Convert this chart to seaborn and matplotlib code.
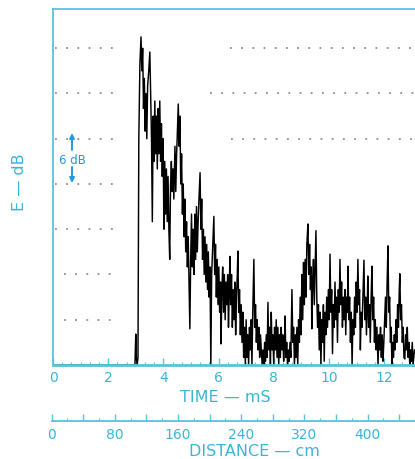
import matplotlib
matplotlib.use("Agg")
import matplotlib.pyplot as plt
import seaborn as sns
import pandas as pd
from matplotlib.ticker import MultipleLocator, FuncFormatter

sns.set_theme(style="white")
plt.rcParams['font.family'] = ['DejaVu Sans']

# ---------------- data (time in ms, level in dB above floor) ----------------
direct_sound = [
    (0.00, 0), (2.97, 0), (3.00, 4.1), (3.02, 1), (3.05, 0), (3.08, 1),
    (3.11, 30), (3.15, 40), (3.19, 43.5), (3.22, 39),
    (3.25, 42), (3.28, 34), (3.31, 38), (3.34, 31), (3.37, 36), (3.40, 30),
    (3.43, 37), (3.47, 39), (3.51, 41.5), (3.54, 36),
]
early_reflections = [
    (3.57, 30), (3.60, 19), (3.63, 33), (3.66, 27), (3.69, 35), (3.72, 28),
    (3.75, 33), (3.78, 26), (3.81, 34), (3.84, 28),
    (3.87, 35), (3.90, 27), (3.93, 32), (3.96, 25), (3.99, 30), (4.02, 18),
    (4.05, 27), (4.08, 20), (4.11, 26), (4.14, 19),
    (4.17, 25), (4.20, 18), (4.23, 14), (4.26, 24), (4.29, 27), (4.32, 23),
    (4.35, 26), (4.38, 22), (4.42, 29), (4.45, 23),
    (4.48, 28), (4.50, 30), (4.54, 34.6), (4.57, 29), (4.60, 33), (4.63, 24),
    (4.66, 28), (4.69, 20), (4.72, 24), (4.75, 17),
    (4.78, 22), (4.81, 15), (4.84, 19), (4.87, 13), (4.90, 17), (4.93, 11),
    (4.96, 4.8), (4.99, 14), (5.02, 20), (5.05, 13),
]
decay = [
    (5.08, 18), (5.11, 12), (5.14, 20), (5.17, 14), (5.20, 21), (5.23, 15),
    (5.26, 19), (5.29, 22), (5.33, 25.5), (5.36, 18),
    (5.39, 22), (5.42, 14), (5.45, 18), (5.48, 12), (5.51, 17), (5.54, 11),
    (5.57, 16), (5.60, 10), (5.63, 15), (5.66, 9),
    (5.69, 13), (5.72, 0), (5.75, 12), (5.79, 16), (5.83, 19.7), (5.86, 12),
    (5.89, 16), (5.92, 9), (5.95, 14), (5.98, 8),
    (6.01, 13), (6.04, 7), (6.07, 11), (6.09, 2.8), (6.12, 10), (6.15, 13),
    (6.18, 7), (6.21, 12), (6.24, 6), (6.27, 11),
    (6.30, 8), (6.33, 12), (6.36, 5), (6.39, 10), (6.41, 14.4), (6.44, 8),
    (6.47, 12), (6.50, 5), (6.53, 10), (6.56, 6),
    (6.59, 11), (6.62, 4), (6.65, 9), (6.68, 12), (6.70, 15.1), (6.73, 7),
    (6.76, 10), (6.79, 4), (6.82, 8), (6.85, 3),
    (6.88, 7), (6.91, 1), (6.94, 5), (6.97, 0), (7.00, 6), (7.03, 1),
    (7.06, 4), (7.09, 0), (7.12, 5), (7.15, 2),
    (7.18, 6), (7.21, 0), (7.24, 7), (7.28, 14), (7.31, 5), (7.34, 8),
    (7.37, 3), (7.40, 6), (7.43, 2), (7.46, 5),
    (7.49, 1), (7.52, 4), (7.55, 2), (7.58, 0), (7.61, 2), (7.64, 0),
    (7.67, 3), (7.70, 0.5), (7.73, 4), (7.76, 1),
    (7.79, 8.3), (7.82, 2), (7.85, 5), (7.88, 0), (7.91, 7), (7.94, 2),
    (7.97, 4), (8.00, 0), (8.03, 5), (8.06, 2),
    (8.09, 6), (8.12, 1), (8.15, 5), (8.18, 0), (8.21, 4), (8.24, 1),
    (8.27, 5), (8.30, 2), (8.33, 4), (8.36, 0.5),
    (8.39, 3), (8.41, 6.5), (8.44, 1), (8.47, 3), (8.50, 0), (8.53, 2),
    (8.56, 0.5), (8.59, 3), (8.62, 1), (8.66, 10),
    (8.69, 3), (8.72, 5), (8.75, 0), (8.78, 4), (8.81, 1), (8.84, 5),
    (8.87, 0), (8.90, 6), (8.93, 3), (8.96, 9),
]
late_field = [
    (8.99, 4), (9.02, 12), (9.05, 6), (9.08, 13.6), (9.11, 8), (9.14, 14),
    (9.17, 9), (9.20, 16), (9.24, 18.7), (9.27, 12),
    (9.30, 16), (9.33, 10), (9.36, 13), (9.38, 4.8), (9.41, 11), (9.44, 14),
    (9.47, 8), (9.50, 13), (9.53, 17.8), (9.56, 9),
    (9.59, 5), (9.62, 8), (9.65, 2), (9.68, 7), (9.71, 0), (9.74, 6),
    (9.77, 3), (9.80, 8), (9.83, 0.5), (9.86, 7),
    (9.89, 4), (9.92, 9), (9.95, 5), (9.98, 10), (10.01, 6), (10.04, 14.7),
    (10.07, 7), (10.10, 10), (10.13, 1.5), (10.16, 8),
    (10.19, 5), (10.22, 11), (10.25, 6), (10.28, 9), (10.31, 3), (10.34, 10),
    (10.37, 7), (10.40, 14), (10.43, 8), (10.46, 11),
    (10.49, 5), (10.52, 9), (10.55, 6), (10.58, 10), (10.61, 4), (10.64, 9),
    (10.67, 7), (10.69, 13.1), (10.72, 6), (10.75, 9),
    (10.78, 3), (10.81, 7), (10.84, 0), (10.87, 6), (10.90, 4), (10.93, 9),
    (10.96, 5), (10.99, 11), (11.02, 7), (11.05, 14),
    (11.08, 8), (11.11, 10), (11.14, 2), (11.17, 7), (11.20, 5), (11.24, 10),
    (11.27, 13.9), (11.30, 6), (11.33, 9), (11.36, 4),
    (11.39, 8), (11.41, 11.8), (11.44, 5), (11.47, 8), (11.50, 3), (11.53, 9),
    (11.56, 13.1), (11.59, 6), (11.62, 9), (11.65, 3),
    (11.68, 6), (11.71, 2), (11.74, 5), (11.78, 0), (11.81, 4), (11.84, 2),
    (11.87, 5), (11.90, 1), (11.93, 4), (11.96, 0.5),
    (11.99, 3), (12.02, 6), (12.05, 9), (12.08, 5), (12.11, 11), (12.14, 15.8),
    (12.17, 7), (12.20, 9), (12.23, 3), (12.26, 5),
    (12.28, 0), (12.31, 3), (12.34, 1), (12.37, 4), (12.40, 2), (12.43, 6),
    (12.46, 3), (12.49, 8), (12.52, 5), (12.55, 10),
    (12.57, 12.1), (12.60, 6), (12.63, 8), (12.66, 3), (12.69, 5), (12.72, 1),
    (12.75, 0.8), (12.78, 4), (12.81, 2), (12.84, 5),
    (12.87, 1), (12.90, 3), (12.93, 0), (12.96, 2), (12.99, 0.5), (13.02, 3),
    (13.05, 0), (13.10, 2), (13.20, 1),
]

time_ticks = [0, 2, 4, 6, 8, 10, 12]
distance_ticks = [0, 80, 160, 240, 320, 400]
grid_levels_db = [6, 12, 18, 24, 30, 36, 42]
time_label = "TIME — mS"
distance_label = "DISTANCE — cm"
y_label = "E — dB"
scale_label = "6 dB"

# ---------------- styling ----------------
CYAN = '#55c4dc'
TXT = '#3bb5d6'
BLUE = '#1e9be0'
DOT = '#8c8c8c'
W, H = 415, 460

fig = plt.figure(figsize=(W / 100, H / 100), dpi=100)
fig.patch.set_facecolor('white')

# axes extends slightly past the right edge of the picture (cut-off original)
ax = fig.add_axes([53 / W, (H - 366) / H, (W - 53 + 6) / W, 356 / H])
ax.set_facecolor('none')

df = pd.DataFrame(direct_sound + early_reflections + decay + late_field,
                  columns=['time', 'level'])
sns.lineplot(data=df, x='time', y='level', ax=ax, color='black',
             lw=1.05, estimator=None, sort=False, legend=False)

ax.set_xlim(0, 13.12 + 6 / 27.6)
ax.set_ylim(0, 47.2)

# partial dotted reference lines (as on the original recording paper)
dot_style = dict(color=DOT, lw=1.3, ls=(0, (1, 5.2)), zorder=0)
left_start = {6: 0.4, 12: 0.4, 18: 0.08, 24: 0.08, 30: 0.08, 36: 0.08, 42: 0.08}
right_start = {30: 6.45, 36: 5.7, 42: 6.4}
for lv in grid_levels_db:
    ax.plot([left_start[lv], 2.2], [lv, lv], **dot_style)
    if lv in right_start:
        ax.plot([right_start[lv], 13.4], [lv, lv], **dot_style)

for side in ['left', 'bottom', 'top']:
    ax.spines[side].set_color(CYAN)
ax.spines['right'].set_visible(False)
ax.spines['left'].set_linewidth(1.3)
ax.spines['top'].set_linewidth(1.3)
ax.spines['bottom'].set_linewidth(2.0)

ax.set_yticks([])
ax.set_xticks(time_ticks)
ax.set_xticklabels([str(t) for t in time_ticks])
ax.xaxis.set_minor_locator(MultipleLocator(1 / 3))
ax.tick_params(axis='x', which='major', direction='in', length=5, width=1,
               color=CYAN, labelcolor=TXT, labelsize=10, pad=3.5, bottom=True)
ax.tick_params(axis='x', which='minor', direction='in', length=2.5, width=0.8,
               color=CYAN, bottom=True)
ax.set_xlabel('')
ax.set_ylabel('')

# distance axis
ax2 = fig.add_axes([51.5 / W, (H - 422) / H, (W - 51.5 + 6) / W, 0.0001])
ax2.set_facecolor('none')
ax2.set_xlim(0, 460 + 6 / 0.79)
ax2.set_yticks([])
for side in ['left', 'right', 'top']:
    ax2.spines[side].set_visible(False)
ax2.spines['bottom'].set_color(CYAN)
ax2.spines['bottom'].set_linewidth(1.3)
ax2.xaxis.set_major_locator(MultipleLocator(40))
ax2.xaxis.set_minor_locator(MultipleLocator(20))
ax2.xaxis.set_major_formatter(FuncFormatter(
    lambda v, p: (f"{int(v)}" if int(round(v)) in distance_ticks else "")))
ax2.tick_params(axis='x', which='major', direction='in', length=5, width=1,
                color=CYAN, labelcolor=TXT, labelsize=10, pad=4.5, bottom=True)
ax2.tick_params(axis='x', which='minor', direction='in', length=2.5, width=0.8,
                color=CYAN, bottom=True)

# labels
fig.text(225 / W, 1 - 398 / H, time_label, ha='center', va='center',
         color=TXT, fontsize=11.5)
fig.text(254 / W, 1 - 452 / H, distance_label, ha='center', va='center',
         color=TXT, fontsize=11.5)
fig.text(20 / W, 1 - 182 / H, y_label, ha='center', va='center',
         rotation=90, color=TXT, fontsize=11.5)
fig.text(72 / W, 1 - 160 / H, scale_label, ha='center', va='center',
         color=BLUE, fontsize=8.5)
arrow = dict(arrowstyle='-|>', color=BLUE, lw=1.4, mutation_scale=7,
             shrinkA=0, shrinkB=0)
ax.annotate('', xy=(72, H - 134), xytext=(72, H - 151),
            xycoords='figure pixels', textcoords='figure pixels',
            arrowprops=arrow)
ax.annotate('', xy=(72, H - 184), xytext=(72, H - 168),
            xycoords='figure pixels', textcoords='figure pixels',
            arrowprops=arrow)

fig.savefig('out.png', dpi=100)
